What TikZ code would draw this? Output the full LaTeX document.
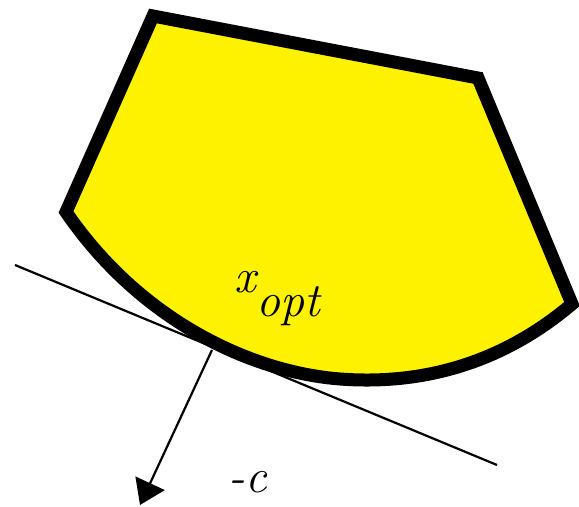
\documentclass[tikz,border=0pt]{standalone}
\usetikzlibrary{arrows.meta}
\begin{document}
\begin{tikzpicture}[x=0.5pt,y=-0.5pt]
\tikzstyle{region}=[draw=black,fill=yellow,line width=6.5pt,line join=miter]
\tikzstyle{thin}=[line width=1.1pt]
\tikzstyle{lbl}=[font=\fontsize{24}{28}\selectfont\itshape,inner sep=0pt,anchor=base west]
\useasboundingbox (0,0) rectangle (579,507);
% tangent line
\coordinate (ta) at (15,265);
\coordinate (tb) at (497,465);
\draw[thin] (ta) -- (tb);
% feasible region
\draw[region] (572,304) .. controls (500,365) and (420,385) .. (340,379)
  .. controls (250,372) and (140,320) .. (66,212)
  -- (153,16) -- (478,78) -- cycle;
% direction -c
\coordinate (xpt) at (212,350);
\coordinate (ctip) at (140,505);
\draw[thin,-{Triangle[length=12pt,width=16pt]}] (xpt) -- (ctip);
\node[lbl] (xopt) at (234,293) {x\raisebox{-12pt}{opt}};
\node[lbl] (cdir) at (228,493) {-c};
\end{tikzpicture}
\end{document}
